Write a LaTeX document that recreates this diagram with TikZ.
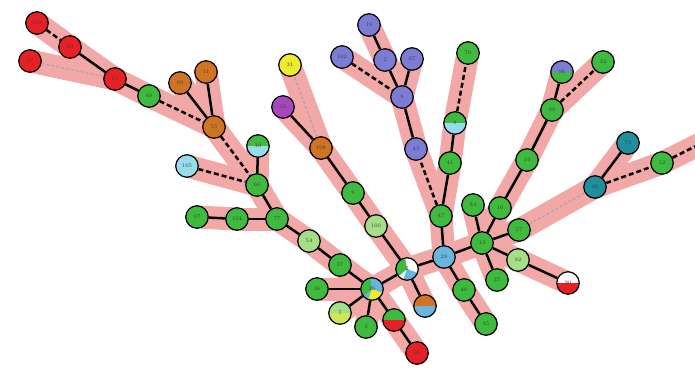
\documentclass[tikz,border=0pt]{standalone}
\usepackage{graphicx, amsmath, amssymb}

\definecolor{nred}{RGB}{230,32,36}
\definecolor{ngreen}{RGB}{62,186,62}
\definecolor{norange}{RGB}{206,116,36}
\definecolor{nblue}{RGB}{124,124,212}
\definecolor{nteal}{RGB}{32,142,156}
\definecolor{ncyan}{RGB}{150,220,235}
\definecolor{nyellow}{RGB}{236,236,44}
\definecolor{npurple}{RGB}{166,72,186}
\definecolor{nlight}{RGB}{164,222,134}
\definecolor{nhub}{RGB}{104,182,222}
\definecolor{band}{RGB}{243,168,168}

\pgfdeclarelayer{bands}
\pgfdeclarelayer{links}
\pgfsetlayers{bands,links,main}

\begin{document}
\begin{tikzpicture}[x=1pt, y=-1pt,
    vx/.style={circle, draw=black, line width=1.2pt, minimum size=22.5pt, inner sep=0pt,
        font=\fontsize{5.5}{5.5}\selectfont, text=black!75},
    half/.style 2 args={vx, path picture={
        \fill[#1] (path picture bounding box.north west) rectangle (path picture bounding box.east);
        \fill[#2] (path picture bounding box.west) rectangle (path picture bounding box.south east);}},
    pie/.style n args={3}{vx, fill=#1, path picture={
        \fill[#2] (path picture bounding box.center) -- ++(100:13pt) arc[start angle=100, end angle=220, radius=13pt] -- cycle;
        \fill[#3] (path picture bounding box.center) -- ++(250:13pt) arc[start angle=250, end angle=340, radius=13pt] -- cycle;}},
    bandline/.style={band, line width=23pt, line cap=round},
    link/.style={black, line width=2.5pt},
    dlink/.style={black, line width=2.5pt, dash pattern=on 5pt off 3pt},
    flink/.style={black!35, line width=1.2pt, dash pattern=on 3pt off 2pt}]
    \useasboundingbox (0,0) rectangle (695,373);

    % Draw nodes
    \node[vx, fill=nred] (r100) at (37,23) {100};
    \node[vx, fill=nred] (r80) at (70,47) {80};
    \node[vx, fill=nred] (r27) at (30,61) {27};
    \node[vx, fill=nred] (r23) at (115,79) {23};
    \node[vx, fill=ngreen] (g48) at (149,96) {48};
    \node[vx, fill=norange] (o99) at (180,83) {99};
    \node[vx, fill=norange] (o11) at (206,72) {11};
    \node[vx, fill=norange] (o55) at (214,127) {55};
    \node[half={ngreen}{ncyan}] (c10) at (258,146) {10};
    \node[vx, fill=ncyan] (c105) at (187,166) {105};
    \node[vx, fill=ngreen] (g60) at (257,185) {60};
    \node[vx, fill=ngreen] (g97) at (197,217) {97};
    \node[vx, fill=ngreen] (g104) at (237,219) {104};
    \node[vx, fill=ngreen] (g77) at (277,219) {77};
    \node[vx, fill=nlight] (g54) at (309,241) {54};
    \node[vx, fill=ngreen] (g37) at (340,265) {37};
    \node[vx, fill=nyellow] (y31) at (290,65) {31};
    \node[vx, fill=npurple] (p32) at (283,107) {32};
    \node[vx, fill=norange] (o108) at (321,148) {108};
    \node[vx, fill=ngreen] (g9) at (353,193) {9};
    \node[vx, fill=nlight] (g100) at (376,226) {100};
    \node[vx, fill=nblue] (b19) at (369,25) {19};
    \node[vx, fill=nblue] (b102) at (342,57) {102};
    \node[vx, fill=nblue] (b2) at (385,60) {2};
    \node[vx, fill=nblue] (b67) at (412,59) {67};
    \node[vx, fill=nblue] (b8) at (402,97) {8};
    \node[vx, fill=nblue] (b43) at (416,149) {43};
    \node[pie={nhub}{ngreen}{nyellow}] (h26) at (372,289) {26};
    \node[pie={white}{ngreen}{nhub}] (h2) at (407,269) {2};
    \node[half={nhub}{nhub}] (h29) at (444,257) {29};
    \node[vx, fill=ngreen] (h13) at (482,243) {13};
    \node[vx, fill=ngreen] (g36) at (317,289) {36};
    \node[half={nlight}{nyellow!60!nlight}] (g5) at (340,313) {5};
    \node[vx, fill=ngreen] (g3) at (366,327) {3};
    \node[half={ngreen}{nred}] (hrg) at (394,320) {};
    \node[vx, fill=nred] (r86) at (417,353) {86};
    \node[half={norange}{nhub}] (hob) at (425,306) {};
    \node[vx, fill=ngreen] (g47) at (441,216) {47};
    \node[vx, fill=ngreen] (g41) at (450,163) {41};
    \node[half={ngreen}{ncyan}] (gc9) at (455,123) {9};
    \node[vx, fill=ngreen] (g70) at (468,53) {70};
    \node[vx, fill=ngreen] (g40) at (464,290) {40};
    \node[vx, fill=ngreen] (g45) at (486,324) {45};
    \node[vx, fill=ngreen] (g84) at (473,205) {84};
    \node[vx, fill=ngreen] (g16) at (500,208) {16};
    \node[vx, fill=ngreen] (g57) at (519,230) {57};
    \node[vx, fill=nlight] (g92) at (518,260) {92};
    \node[vx, fill=ngreen] (g25) at (497,280) {25};
    \node[half={white}{nred}] (rw) at (568,283) {90};
    \node[vx, fill=ngreen] (g34) at (527,160) {34};
    \node[vx, fill=ngreen] (g88) at (552,110) {88};
    \node[half={nblue}{ngreen}] (pg) at (562,72) {96};
    \node[vx, fill=ngreen] (g32) at (603,62) {32};
    \node[vx, fill=nteal] (t46) at (595,187) {46};
    \node[vx, fill=nteal] (t73) at (628,143) {73};
    \node[vx, fill=ngreen] (g12) at (662,163) {12};
    \coordinate (out) at (712,138);

    % Draw connections
    \begin{pgfonlayer}{bands}
    \foreach \a/\b in {r100/r80, r80/r23, r27/r23, r23/g48, g48/o55, o99/o55, o11/o55,
        o55/g60, c10/g60, c105/g60, g60/g77, g97/g104, g104/g77, g77/g54, g54/g37,
        g37/h26, g36/h26, g5/h26, g3/h26, h26/hrg, hrg/r86, h26/h2, h2/hob, h2/g100,
        g100/g9, g9/o108, o108/p32, o108/y31, h2/h29, h29/g47, g47/b43, g47/g41,
        g41/gc9, gc9/g70, b19/b2, b2/b8, b67/b8, b102/b8, b8/b43, h29/g40, g40/g45,
        h29/h13, h13/g84, h13/g16, h13/g57, h13/g92, h13/g25, g92/rw, g16/g34,
        g34/g88, g88/pg, g88/g32, g57/t46, t46/t73, t46/g12, g12/out}
        \draw[bandline] (\a.center) -- (\b.center);
    \end{pgfonlayer}

    \begin{pgfonlayer}{links}
    \foreach \a/\b in {r80/r23, r23/g48, o99/o55, o11/o55, c10/g60, g60/g77, g97/g104,
        g104/g77, g77/g54, g54/g37, g37/h26, g36/h26, g5/h26, g3/h26, h26/hrg, hrg/r86,
        h26/h2, h2/hob, h2/g100, g100/g9, g9/o108, o108/p32, h2/h29, h29/g47, g47/g41,
        g41/gc9, b19/b2, b2/b8, b67/b8, b8/b43, h29/g40, g40/g45, h29/h13, h13/g84,
        h13/g16, h13/g57, h13/g92, h13/g25, g92/rw, g16/g34, g34/g88, g88/pg, t46/t73}
        \draw[link] (\a) -- (\b);
    \foreach \a/\b in {r100/r80, g48/o55, o55/g60, c105/g60, g47/b43, gc9/g70,
        b102/b8, g88/g32, t46/g12, g12/out}
        \draw[dlink] (\a) -- (\b);
    \foreach \a/\b in {r27/r23, o108/y31, g57/t46}
        \draw[flink] (\a) -- (\b);
    \end{pgfonlayer}
\end{tikzpicture}
\end{document}
